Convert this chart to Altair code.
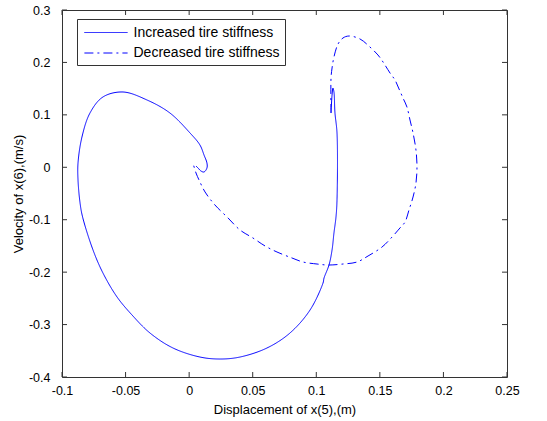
import altair as alt
import pandas as pd

series = ["Increased tire stiffness", "Decreased tire stiffness"]

inc_x = [0.1116, 0.1124, 0.1131, 0.1139, 0.1147, 0.1163, 0.1163, 0.1155, 0.1139, 0.1124,
         0.1100, 0.1061, 0.1053, 0.0951, 0.0793, 0.0612, 0.0400, 0.0243, 0.0085, -0.0127,
         -0.0308, -0.0449, -0.0567, -0.0678, -0.0756, -0.0838, -0.0858, -0.0874, -0.0874, -0.0843,
         -0.0780, -0.0678, -0.0520, -0.0331, -0.0151, 0.0007, 0.0085, 0.0117, 0.0140, 0.0140,
         0.0117, 0.0093, 0.0070, 0.0054]
inc_y = [0.1035, 0.1379, 0.1512, 0.1436, 0.1035, 0.0654, -0.0624, -0.0948, -0.1253, -0.1578,
         -0.1864, -0.2112, -0.2207, -0.2722, -0.3161, -0.3447, -0.3619, -0.3657, -0.3619, -0.3447,
         -0.3161, -0.2818, -0.2474, -0.2016, -0.1578, -0.0948, -0.0681, -0.0243, 0.0082, 0.0578,
         0.1035, 0.1341, 0.1436, 0.1283, 0.1035, 0.0654, 0.0425, 0.0234, 0.0082, -0.0014,
         -0.0090, -0.0071, -0.0014, 0.0024]

dec_x = [0.1116, 0.1116, 0.1124, 0.1139, 0.1171, 0.1210, 0.1257, 0.1344, 0.1422, 0.1485,
         0.1525, 0.1580, 0.1619, 0.1651, 0.1682, 0.1713, 0.1737, 0.1761, 0.1784, 0.1792,
         0.1784, 0.1761, 0.1729, 0.1698, 0.1658, 0.1596, 0.1517, 0.1407, 0.1320, 0.1210,
         0.1092, 0.1006, 0.0896, 0.0809, 0.0691, 0.0597, 0.0502, 0.0400, 0.0306, 0.0203,
         0.0125, 0.0078, 0.0054, 0.0030]
dec_y = [0.1035, 0.1703, 0.1894, 0.2104, 0.2351, 0.2466, 0.2504, 0.2447, 0.2294, 0.2142,
         0.2008, 0.1798, 0.1665, 0.1493, 0.1321, 0.1150, 0.0902, 0.0654, 0.0330, 0.0005,
         -0.0300, -0.0567, -0.0815, -0.1044, -0.1158, -0.1330, -0.1521, -0.1692, -0.1807, -0.1845,
         -0.1864, -0.1845, -0.1807, -0.1730, -0.1616, -0.1501, -0.1349, -0.1196, -0.0967, -0.0719,
         -0.0471, -0.0243, -0.0109, 0.0082]

x_ticks = [-0.1, -0.05, 0, 0.05, 0.1, 0.15, 0.2, 0.25]
y_ticks = [-0.4, -0.3, -0.2, -0.1, 0, 0.1, 0.2, 0.3]

rows = []
for i, (a, b) in enumerate(zip(inc_x, inc_y)):
    rows.append({"series": series[0], "idx": i, "x": a, "y": b})
for i, (a, b) in enumerate(zip(dec_x, dec_y)):
    rows.append({"series": series[1], "idx": i, "x": a, "y": b})
df = pd.DataFrame(rows)

W, H = 445, 367
FONT = "Liberation Sans"
AX = "#333333"
BLUE = "#0000ff"
lbl = "datum.value < 0 ? '-' + format(-datum.value, '~g') : format(datum.value, '~g')"

xscale = alt.Scale(domain=[-0.1, 0.25], nice=False, zero=False)
yscale = alt.Scale(domain=[-0.4, 0.3], nice=False, zero=False)
XT = "Displacement of x(5),(m)"
YT = "Velocity of x(6),(m/s)"

xaxis = alt.Axis(
    values=x_ticks, labelExpr=lbl, ticks=False, domain=False, grid=False,
    labelFont=FONT, labelFontSize=12.5, labelColor="black", labelPadding=7,
    labelOverlap=False, labelFlush=False,
    title=XT, titleFont=FONT, titleFontSize=13,
    titleFontWeight="normal", titleColor="black", titlePadding=7)
yaxis = alt.Axis(
    values=y_ticks, labelExpr=lbl, ticks=False, domain=False, grid=False,
    labelFont=FONT, labelFontSize=12.5, labelColor="black", labelPadding=12,
    labelOverlap=False, labelFlush=False,
    title=YT, titleFont=FONT, titleFontSize=13,
    titleFontWeight="normal", titleColor="black", titlePadding=3)

lines = alt.Chart(df).mark_line(strokeWidth=1, color=BLUE, interpolate="catmull-rom").encode(
    x=alt.X("x:Q", scale=xscale, axis=xaxis, title=XT),
    y=alt.Y("y:Q", scale=yscale, axis=yaxis, title=YT),
    strokeDash=alt.StrokeDash("series:N", scale=alt.Scale(domain=series, range=[[1, 0], [9, 4, 2, 4]]),
        legend=alt.Legend(title=None, orient="none", legendX=15, legendY=9,
            symbolType="M-2.7,0H2.7", symbolSize=256, symbolStrokeWidth=1, symbolStrokeColor=BLUE,
            symbolOffset=15.5,
            labelFont=FONT, labelFontSize=14, labelColor="black", labelOffset=19,
            strokeColor=AX, fillColor="white", padding=5, rowPadding=4.5)),
    order="idx:Q",
)

xt = pd.DataFrame({"v": x_ticks})
yt = pd.DataFrame({"v": y_ticks})
tick_b = alt.Chart(xt).mark_rule(color=AX, strokeWidth=1).encode(
    x=alt.X("v:Q", scale=xscale, axis=xaxis, title=XT), y=alt.value(H), y2=alt.value(H - 5))
tick_t = alt.Chart(xt).mark_rule(color=AX, strokeWidth=1).encode(
    x=alt.X("v:Q", scale=xscale, axis=xaxis, title=XT), y=alt.value(0), y2=alt.value(5))
tick_l = alt.Chart(yt).mark_rule(color=AX, strokeWidth=1).encode(
    y=alt.Y("v:Q", scale=yscale, axis=yaxis, title=YT), x=alt.value(0), x2=alt.value(5))
tick_r = alt.Chart(yt).mark_rule(color=AX, strokeWidth=1).encode(
    y=alt.Y("v:Q", scale=yscale, axis=yaxis, title=YT), x=alt.value(W), x2=alt.value(W - 5))

chart = alt.layer(lines, tick_b, tick_t, tick_l, tick_r).properties(
    width=W, height=H,
    autosize=alt.AutoSizeParams(type="none"),
    padding={"left": 62, "top": 10, "right": 40, "bottom": 44},
    background="white",
).configure_view(stroke=AX, strokeWidth=1)

chart.save("out.html", embed_options={"renderer": "svg", "actions": False})
